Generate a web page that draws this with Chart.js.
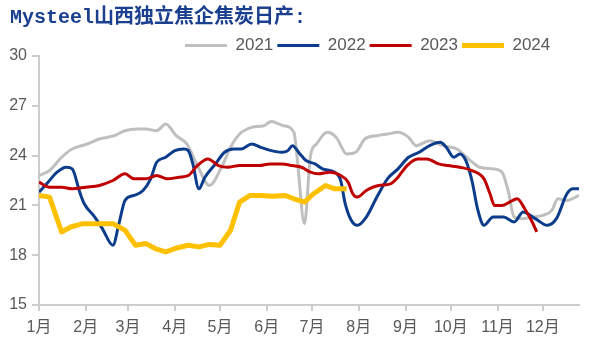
<!DOCTYPE html>
<html>
<head>
<meta charset="utf-8">
<script src="https://cdn.jsdelivr.net/npm/chart.js@4.4.1/dist/chart.umd.min.js"></script>
<style>
  html, body { margin: 0; padding: 0; background: #fff; }
  #wrap { width: 596px; height: 349px; }
</style>
</head>
<body>
<div id="wrap"><canvas id="chart" width="596" height="349"></canvas></div>
<script>
// x = day of year, ticks at the first day of each month
const monthDays = [0, 31, 59, 90, 120, 151, 181, 212, 243, 273, 304, 334];
const monthLabels = ["1月", "2月", "3月", "4月", "5月", "6月", "7月", "8月", "9月", "10月", "11月", "12月"];
const yTicks = [15, 18, 21, 24, 27, 30];

const days2021 = [0, 7, 15, 22, 32, 40, 50, 57, 65, 71, 78, 84, 91, 98, 105, 113, 121, 127, 133, 141,
  149, 154, 162, 169, 171, 176, 180, 184, 191, 197, 204, 210, 216, 224, 231, 238, 245, 250, 259, 268,
  277, 286, 292, 301, 307, 311, 315, 320, 327, 334, 340, 344, 350, 358];
const output2021 = [22.8, 23.1, 23.9, 24.4, 24.7, 25.0, 25.2, 25.5, 25.6, 25.6, 25.5, 25.9, 25.2, 24.7, 23.4, 22.2, 23.3, 24.5, 25.3, 25.7,
  25.8, 26.05, 25.8, 25.4, 24.0, 19.9, 24.0, 24.7, 25.4, 25.1, 24.1, 24.2, 25.0, 25.2, 25.3, 25.4, 25.1, 24.6, 24.9, 24.6,
  24.4, 23.7, 23.3, 23.2, 23.0, 21.9, 20.3, 20.2, 20.3, 20.4, 20.7, 21.4, 21.3, 21.6];

const days2022 = [0, 6, 12, 18, 22, 27, 30, 37, 42, 49, 53, 57, 63, 69, 74, 78, 84, 90, 96, 99,
  102, 106, 110, 117, 123, 129, 134, 141, 147, 154, 161, 165, 168, 173, 177, 183, 188, 196, 200, 203,
  207, 211, 217, 224, 231, 238, 245, 252, 259, 266, 270, 275, 279, 283, 287, 291, 295, 301, 308, 315,
  321, 329, 337, 343, 350, 354, 358];
const output2022 = [21.8, 22.4, 23.0, 23.3, 23.2, 21.8, 21.1, 20.3, 19.6, 18.6, 19.9, 21.3, 21.6, 21.9, 22.6, 23.6, 23.9, 24.3, 24.4, 24.3,
  23.5, 22.0, 22.7, 23.5, 24.2, 24.4, 24.4, 24.7, 24.5, 24.3, 24.2, 24.3, 24.6, 24.1, 23.7, 23.5, 23.2, 23.0, 22.5, 21.1,
  20.1, 19.8, 20.3, 21.5, 22.6, 23.2, 23.9, 24.2, 24.6, 24.8, 24.5, 23.9, 24.1, 23.7, 22.5, 20.7, 19.8, 20.3, 20.3, 20.0,
  20.6, 20.2, 19.8, 20.2, 21.7, 22.0, 22.0];

const days2023 = [0, 7, 15, 22, 31, 40, 49, 57, 63, 71, 78, 85, 93, 99, 105, 112, 119, 125, 133, 140,
  146, 153, 161, 168, 174, 180, 185, 193, 200, 205, 208, 211, 217, 225, 233, 238, 244, 251, 257, 265,
  271, 279, 287, 295, 299, 302, 307, 312, 317, 322, 327, 330];
const output2023 = [22.4, 22.1, 22.1, 22.0, 22.1, 22.2, 22.5, 22.9, 22.6, 22.6, 22.8, 22.6, 22.7, 22.8, 23.4, 23.8, 23.4, 23.3, 23.4, 23.4,
  23.4, 23.5, 23.5, 23.4, 23.3, 23.0, 22.9, 23.0, 22.8, 22.4, 21.7, 21.5, 21.9, 22.2, 22.3, 22.7, 23.4, 23.8, 23.8, 23.5,
  23.4, 23.3, 23.1, 22.6, 21.7, 21.0, 21.0, 21.2, 21.4, 20.8, 20.0, 19.4];

const days2024 = [0, 7, 15, 21, 29, 36, 42, 49, 57, 64, 71, 77, 84, 92, 99, 106, 113, 120, 127, 133,
  140, 147, 155, 163, 169, 176, 182, 190, 196, 204];
const output2024 = [21.6, 21.5, 19.4, 19.7, 19.9, 19.9, 19.9, 19.9, 19.5, 18.6, 18.7, 18.4, 18.2, 18.45, 18.6, 18.5, 18.65, 18.6, 19.5, 21.2,
  21.6, 21.6, 21.55, 21.6, 21.4, 21.2, 21.7, 22.2, 22.0, 22.0];

function pairs(days, values) {
  return days.map((d, i) => ({ x: d, y: values[i] }));
}

const axisColor = "#cccccc";
const tickFont = { family: "'Liberation Sans', 'Noto Sans CJK SC', sans-serif", size: 16 };

// Chart.js only offers start/center/end for the legend, so slide it over after layout
const legendOffset = {
  id: "legendOffset",
  afterLayout(chart) {
    if (chart.legend) chart.legend.left = 181;
  },
};

new Chart(document.getElementById("chart"), {
  type: "line",
  data: {
    datasets: [
      {
        label: "2021",
        data: pairs(days2021, output2021),
        borderColor: "#bfbfbf",
        backgroundColor: "#bfbfbf",
        borderWidth: 3,
        cubicInterpolationMode: "monotone",
        order: 4,
      },
      {
        label: "2022",
        data: pairs(days2022, output2022),
        borderColor: "#0c3c8c",
        backgroundColor: "#0c3c8c",
        borderWidth: 3,
        cubicInterpolationMode: "monotone",
        order: 3,
      },
      {
        label: "2023",
        data: pairs(days2023, output2023),
        borderColor: "#c00000",
        backgroundColor: "#c00000",
        borderWidth: 3,
        cubicInterpolationMode: "monotone",
        order: 2,
      },
      {
        label: "2024",
        data: pairs(days2024, output2024),
        borderColor: "#ffc000",
        backgroundColor: "#ffc000",
        borderWidth: 5,
        borderJoinStyle: "round",
        tension: 0,
        order: 1,
      },
    ],
  },
  options: {
    responsive: false,
    animation: false,
    events: [],
    elements: { point: { radius: 0 } },
    layout: { padding: { left: 10, right: 17, top: 0, bottom: 0 } },
    plugins: {
      title: {
        display: true,
        text: "Mysteel山西独立焦企焦炭日产:",
        align: "start",
        color: "#1b3f8f",
        font: { family: "'Liberation Mono', 'Noto Sans CJK SC', monospace", size: 20, weight: "bold" },
        padding: { top: 6, bottom: 3 },
      },
      legend: {
        display: true,
        position: "top",
        align: "start",
        maxHeight: 23,
        labels: {
          usePointStyle: true,
          pointStyle: "line",
          pointStyleWidth: 42,
          padding: 4,
          color: "#595959",
          font: { family: "'Liberation Sans', sans-serif", size: 17 },
          sort: (a, b) => a.datasetIndex - b.datasetIndex,
        },
      },
      tooltip: { enabled: false },
    },
    scales: {
      x: {
        type: "linear",
        min: 0,
        max: 358,
        afterBuildTicks(scale) {
          scale.ticks = monthDays.map((v) => ({ value: v }));
        },
        afterFit(scale) {
          scale.height = 44;
        },
        ticks: {
          autoSkip: false,
          maxRotation: 0,
          padding: 7,
          color: "#595959",
          font: tickFont,
          callback: (value, index) => monthLabels[index],
        },
        grid: { drawOnChartArea: false, drawTicks: true, tickLength: 6, color: axisColor, lineWidth: 2 },
        border: { display: true, color: axisColor, width: 2 },
      },
      y: {
        min: 15,
        max: 30,
        afterBuildTicks(scale) {
          scale.ticks = yTicks.map((v) => ({ value: v }));
        },
        afterFit(scale) {
          scale.width = 29;
        },
        ticks: {
          padding: 5,
          color: "#595959",
          font: tickFont,
        },
        grid: { drawOnChartArea: false, drawTicks: true, tickLength: 7, color: axisColor, lineWidth: 2 },
        border: { display: true, color: axisColor, width: 2 },
      },
    },
  },
  plugins: [legendOffset],
});
</script>
</body>
</html>
